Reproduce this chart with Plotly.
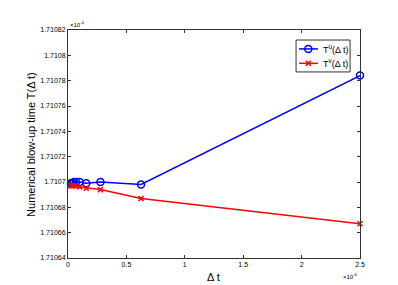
import plotly.graph_objects as go

# Time step values (units of 1e-6)
dt = [2.5, 0.625, 0.2778, 0.15625, 0.1, 0.0694, 0.051, 0.0391, 0.0309, 0.025]
# Blow-up times (units of 1e-4)
T_u = [1.710784, 1.710698, 1.7107, 1.710699, 1.7107, 1.7107, 1.7107, 1.710699, 1.710699, 1.710699]
T_v = [1.710667, 1.710687, 1.710694, 1.710695, 1.710696, 1.710697, 1.710697, 1.710697, 1.710697, 1.710697]

x_ticks = [0, 0.5, 1, 1.5, 2, 2.5]
x_tick_labels = ["0", "0.5", "1", "1.5", "2", "2.5"]
y_ticks = [1.71064, 1.71066, 1.71068, 1.7107, 1.71072, 1.71074, 1.71076, 1.71078, 1.7108, 1.71082]
y_tick_labels = ["1.71064", "1.71066", "1.71068", "1.7107", "1.71072", "1.71074", "1.71076", "1.71078", "1.7108", "1.71082"]
series_names = ["T<sup>u</sup>(Δ t)", "T<sup>v</sup>(Δ t)"]
series_colors = ["#0000ff", "#ff0000"]
series_symbols = ["circle-open", "x-thin-open"]
series_sizes = [7, 5]

font = "Liberation Sans, Arial, sans-serif"

fig = go.Figure()
for ys, name, col, sym, sz in zip([T_u, T_v], series_names, series_colors, series_symbols, series_sizes):
    fig.add_trace(go.Scatter(
        x=dt, y=ys, mode="lines+markers", name=name, showlegend=False,
        line=dict(color=col, width=1.5), cliponaxis=False,
        marker=dict(symbol=sym, size=sz, color=col, line=dict(width=1.5, color=col)),
    ))

# custom compact legend (overlay axes in 0..1 plot-fraction units)
leg_x0, leg_x1, leg_y0, leg_y1 = 0.781, 0.966, 0.816, 0.956
entry_y = [0.917, 0.854]
fig.add_shape(type="rect", xref="x2", yref="y2", x0=leg_x0, x1=leg_x1, y0=leg_y0, y1=leg_y1,
              line=dict(color="#333333", width=1), fillcolor="white", layer="below")
for ey, name, col, sym, sz in zip(entry_y, series_names, series_colors, series_symbols, series_sizes):
    fig.add_trace(go.Scatter(
        x=[0.791, 0.823, 0.856], y=[ey, ey, ey], xaxis="x2", yaxis="y2",
        mode="lines", showlegend=False, hoverinfo="skip",
        line=dict(color=col, width=1.5), cliponaxis=False,
    ))
    fig.add_trace(go.Scatter(
        x=[0.823], y=[ey], xaxis="x2", yaxis="y2",
        mode="markers", showlegend=False, hoverinfo="skip", cliponaxis=False,
        marker=dict(symbol=sym, size=sz, color=col, line=dict(width=1.5, color=col)),
    ))
    fig.add_annotation(text=name, x=0.866, y=ey, xref="x2", yref="y2",
                       xanchor="left", yanchor="middle", showarrow=False,
                       font=dict(family=font, size=9, color="#000000"))

axis_common = dict(
    showline=True, linecolor="#333333", linewidth=1, mirror="ticks",
    ticks="inside", ticklen=3, tickcolor="#333333", showgrid=False, zeroline=False,
    tickfont=dict(family=font, size=7, color="#000000"), automargin=False,
)

fig.update_layout(
    width=390, height=277,
    margin=dict(l=60, r=38, t=22, b=27),
    paper_bgcolor="white", plot_bgcolor="white",
    showlegend=False,
    xaxis=dict(range=[0, 2.5], tickvals=x_ticks, ticktext=x_tick_labels, **axis_common),
    yaxis=dict(range=[1.71064, 1.71082], tickvals=y_ticks, ticktext=y_tick_labels, **axis_common),
    xaxis2=dict(overlaying="x", range=[0, 1], visible=False, fixedrange=True),
    yaxis2=dict(overlaying="y", range=[0, 1], visible=False, fixedrange=True),
)

fig.add_annotation(text="Δ t", x=0.497, y=-0.085, xref="paper", yref="paper",
                   xanchor="center", yanchor="middle", showarrow=False,
                   font=dict(family=font, size=11, color="#000000"))
fig.add_annotation(text="Numerical blow-up time T(Δ t)", x=-0.127, y=0.5, xref="paper", yref="paper",
                   textangle=-90, xanchor="center", yanchor="middle", showarrow=False,
                   font=dict(family=font, size=11, color="#000000"))
fig.add_annotation(text="×10<sup>-4</sup>", x=0.0, y=1.0, xref="paper", yref="paper",
                   xanchor="left", yanchor="bottom", showarrow=False,
                   font=dict(family=font, size=6, color="#000000"))
fig.add_annotation(text="×10<sup>-6</sup>", x=1.0, y=-0.079, xref="paper", yref="paper",
                   xanchor="right", yanchor="middle", showarrow=False,
                   font=dict(family=font, size=6, color="#000000"))

fig.write_html("out.html")
